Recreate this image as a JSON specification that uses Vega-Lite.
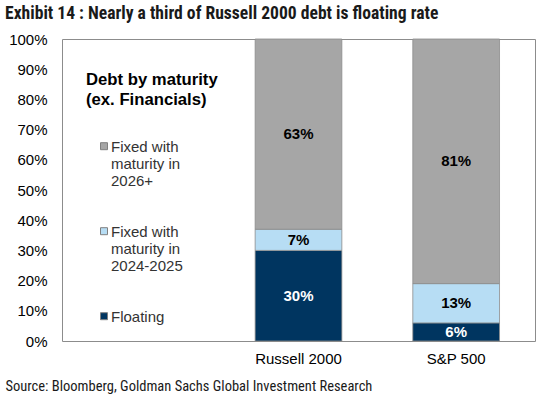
{
  "$schema": "https://vega.github.io/schema/vega-lite/v6.json",
  "width": 473,
  "height": 302,
  "autosize": {"type": "none"},
  "padding": {"left": 62, "top": 39, "right": 8, "bottom": 56},
  "background": "white",
  "title": {
    "text": "Exhibit 14 : Nearly a third of Russell 2000 debt is floating rate",
    "anchor": "start",
    "frame": "group",
    "dx": -57,
    "dy": 15,
    "offset": 10,
    "baseline": "alphabetic",
    "font": "Roboto Condensed",
    "fontSize": 17.6,
    "fontWeight": "bold",
    "color": "#1a1a1a"
  },
  "config": {
    "view": {"stroke": "#8c8c8c", "strokeWidth": 1},
    "font": "Liberation Sans"
  },
  "data": {
    "values": [
      {"index": "Russell 2000", "series": "Floating", "seq": 1, "value": 0.30},
      {"index": "Russell 2000", "series": "Fixed with|maturity in|2024-2025", "seq": 2, "value": 0.07},
      {"index": "Russell 2000", "series": "Fixed with|maturity in|2026+", "seq": 3, "value": 0.63},
      {"index": "S&P 500", "series": "Floating", "seq": 1, "value": 0.06},
      {"index": "S&P 500", "series": "Fixed with|maturity in|2024-2025", "seq": 2, "value": 0.13},
      {"index": "S&P 500", "series": "Fixed with|maturity in|2026+", "seq": 3, "value": 0.81}
    ]
  },
  "encoding": {
    "x": {
      "field": "index",
      "type": "nominal",
      "sort": null,
      "scale": {"domain": [" ", "Russell 2000", "S&P 500"], "paddingInner": 0.45, "paddingOuter": 0.225},
      "axis": {
        "title": "Source: Bloomberg, Goldman Sachs Global Investment Research",
        "titleAnchor": "start",
        "titleAlign": "left",
        "titleBaseline": "alphabetic",
        "titleX": -57,
        "titleY": 49,
        "titleFont": "Roboto Condensed",
        "titleFontSize": 14.5,
        "titleFontWeight": "normal",
        "titleColor": "#1a1a1a",
        "labelAngle": 0,
        "ticks": false,
        "tickSize": 0,
        "domain": false,
        "labelPadding": 10,
        "labelFont": "Liberation Sans",
        "labelFontSize": 15,
        "labelColor": "#000000"
      }
    },
    "y": {
      "field": "value",
      "type": "quantitative",
      "stack": "zero",
      "scale": {"domain": [0, 1], "nice": false},
      "axis": {
        "title": null,
        "format": ".0%",
        "values": [0, 0.1, 0.2, 0.3, 0.4, 0.5, 0.6, 0.7, 0.8, 0.9, 1],
        "grid": false,
        "ticks": false,
        "tickSize": 0,
        "domain": false,
        "labelPadding": 15,
        "labelFont": "Liberation Sans",
        "labelFontSize": 15,
        "labelColor": "#000000"
      }
    },
    "order": {"field": "seq", "type": "quantitative"}
  },
  "layer": [
    {
      "mark": {"type": "bar", "stroke": "#8c8c8c", "strokeWidth": 0.8},
      "encoding": {
        "color": {
          "field": "series",
          "type": "nominal",
          "scale": {
            "domain": ["Fixed with|maturity in|2026+", "Fixed with|maturity in|2024-2025", "Floating"],
            "range": ["#A6A6A6", "#B7DDF4", "#003560"]
          },
          "legend": {
            "orient": "none",
            "legendX": 24,
            "legendY": 33,
            "padding": 0,
            "title": ["Debt by maturity", "(ex. Financials)"],
            "titleFont": "Liberation Sans",
            "titleFontSize": 16.7,
            "titleFontWeight": "bold",
            "titleColor": "#000000",
            "titleAlign": "left",
            "titleAnchor": "start",
            "titleLineHeight": 20,
            "titlePadding": 30,
            "labelExpr": "split(datum.label, '|')",
            "labelFont": "Liberation Sans",
            "labelFontSize": 15,
            "labelColor": "#333333",
            "labelLineHeight": 17.5,
            "labelBaseline": "top",
            "labelOffset": -0.5,
            "symbolType": "square",
            "symbolSize": 49,
            "symbolOffset": 10.5,
            "symbolStrokeColor": "#808080",
            "symbolStrokeWidth": 1,
            "rowPadding": 34,
            "encode": {
              "labels": {"update": {"dy": {"value": -6}}},
              "symbols": {"update": {"stroke": {"value": "#808080"}, "strokeWidth": {"value": 1}}}
            }
          }
        }
      }
    },
    {
      "mark": {"type": "text", "fontWeight": "bold", "fontSize": 15, "font": "Liberation Sans", "baseline": "middle"},
      "encoding": {
        "y": {"field": "value", "type": "quantitative", "stack": "zero", "bandPosition": 0.5},
        "detail": {"field": "series"},
        "text": {"field": "value", "type": "quantitative", "format": ".0%"},
        "color": {
          "condition": {"test": "datum.series == 'Floating'", "value": "#ffffff"},
          "value": "#000000"
        }
      }
    }
  ]
}
